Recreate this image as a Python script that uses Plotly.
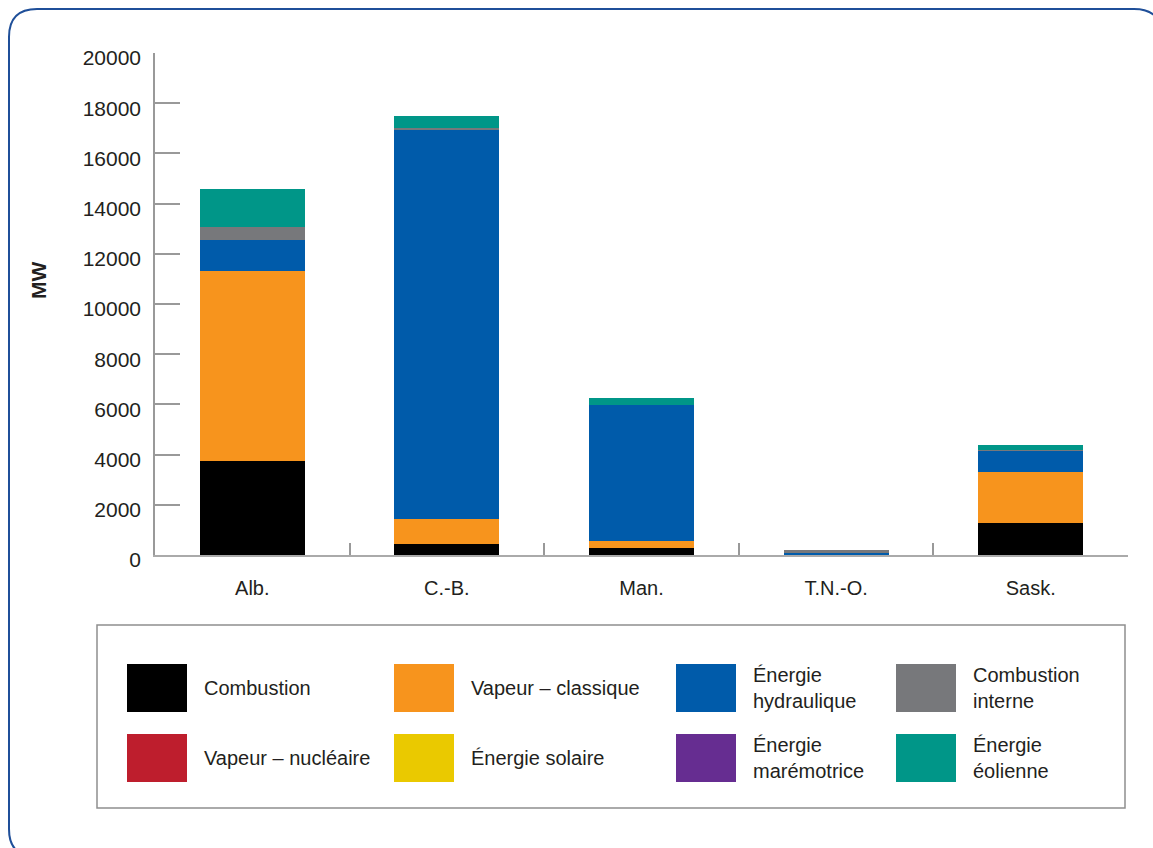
import plotly.graph_objects as go

categories = ["Alb.", "C.-B.", "Man.", "T.N.-O.", "Sask."]

series_names = [
    "Combustion",
    "Vapeur – classique",
    "Énergie hydraulique",
    "Combustion interne",
    "Vapeur – nucléaire",
    "Énergie solaire",
    "Énergie marémotrice",
    "Énergie éolienne",
]
legend_labels = [
    "Combustion",
    "Vapeur – classique",
    "Énergie<br>hydraulique",
    "Combustion<br>interne",
    "Vapeur – nucléaire",
    "Énergie solaire",
    "Énergie<br>marémotrice",
    "Énergie<br>éolienne",
]
colors = ["#000000", "#f7941d", "#005baa", "#77787b",
          "#be1e2d", "#eac900", "#662d91", "#009688"]

combustion = [3730, 450, 280, 30, 1270]
vapeur_classique = [7600, 1000, 280, 0, 2030]
hydraulique = [1220, 15500, 5420, 40, 850]
combustion_interne = [510, 80, 0, 110, 40]
vapeur_nucleaire = [0, 0, 0, 0, 0]
solaire = [0, 0, 0, 0, 0]
maremotrice = [0, 0, 0, 0, 0]
eolienne = [1520, 480, 270, 0, 190]

values = [combustion, vapeur_classique, hydraulique, combustion_interne,
          vapeur_nucleaire, solaire, maremotrice, eolienne]

y_ticks = list(range(0, 20001, 2000))

FONT = "Liberation Sans, Arial, sans-serif"
TXT = "#231f20"

W, H = 1153, 848
L, R, T, B = 155, 25, 53, 293
PW, PH = W - L - R, H - T - B


def px(xp):
    return (xp - L) / PW


def py(yp):
    return (H - B - yp) / PH


fig = go.Figure()
for name, vals, col in zip(series_names, values, colors):
    fig.add_trace(go.Bar(x=categories, y=vals, name=name,
                         marker=dict(color=col, line=dict(width=0)),
                         showlegend=False))

shapes = []
annotations = []

# outer rounded frame
x0, y0, x1, y1, r = 9, 9, 1162, 857, 28
path = (f"M {px(x0 + r)},{py(y0)} L {px(x1 - r)},{py(y0)} "
        f"Q {px(x1)},{py(y0)} {px(x1)},{py(y0 + r)} "
        f"L {px(x1)},{py(y1 - r)} Q {px(x1)},{py(y1)} {px(x1 - r)},{py(y1)} "
        f"L {px(x0 + r)},{py(y1)} Q {px(x0)},{py(y1)} {px(x0)},{py(y1 - r)} "
        f"L {px(x0)},{py(y0 + r)} Q {px(x0)},{py(y0)} {px(x0 + r)},{py(y0)} Z")
shapes.append(dict(type="path", xref="paper", yref="paper", path=path,
                   line=dict(color="#1f4f99", width=2), layer="below"))

# legend box
shapes.append(dict(type="rect", xref="paper", yref="paper",
                   x0=px(97), x1=px(1125), y0=py(808), y1=py(625),
                   line=dict(color="#8f8f8f", width=1.5)))

col_x = [127, 394, 676, 896]
row_y = [664, 734]
sw_w, sw_h = 60, 48
for i, (lab, col) in enumerate(zip(legend_labels, colors)):
    c, rr = i % 4, i // 4
    sx, sy = col_x[c], row_y[rr]
    shapes.append(dict(type="rect", xref="paper", yref="paper",
                       x0=px(sx), x1=px(sx + sw_w), y0=py(sy + sw_h), y1=py(sy),
                       fillcolor=col, line=dict(width=0)))
    annotations.append(dict(xref="paper", yref="paper", x=px(sx + 75),
                            y=py(sy + sw_h / 2), text=lab, showarrow=False,
                            xanchor="left", yanchor="middle", align="left",
                            font=dict(family=FONT, size=20, color=TXT)))

# y-axis title
annotations.append(dict(xref="paper", yref="paper", x=px(38), y=py(281),
                        text="<b>MW</b>", showarrow=False, textangle=-90,
                        xanchor="center", yanchor="middle",
                        font=dict(family=FONT, size=21, color=TXT)))

fig.update_layout(
    width=W, height=H,
    margin=dict(l=L, r=R, t=T, b=B, pad=0),
    paper_bgcolor="white", plot_bgcolor="white",
    barmode="stack", bargap=0.46,
    showlegend=False,
    shapes=shapes, annotations=annotations,
    font=dict(family=FONT, size=20, color=TXT),
)
fig.update_xaxes(
    type="category", range=[-0.5, 4.5],
    showline=True, linecolor="#aaaaaa", linewidth=2,
    ticks="inside", tickson="boundaries", ticklen=12, tickcolor="#999999", tickwidth=2,
    showgrid=False, zeroline=False,
    tickfont=dict(family=FONT, size=20, color=TXT),
    ticklabelstandoff=14,
)
fig.update_yaxes(
    range=[0, 20000], tickvals=y_ticks, ticktext=[str(v) for v in y_ticks],
    showline=True, linecolor="#999999", linewidth=1.5,
    ticks="inside", ticklen=25, tickcolor="#999999", tickwidth=1.5,
    showgrid=False, zeroline=False,
    tickfont=dict(family=FONT, size=21, color=TXT),
    ticklabelstandoff=8, ticklabelshift=5,
)

fig.write_html("out.html")
